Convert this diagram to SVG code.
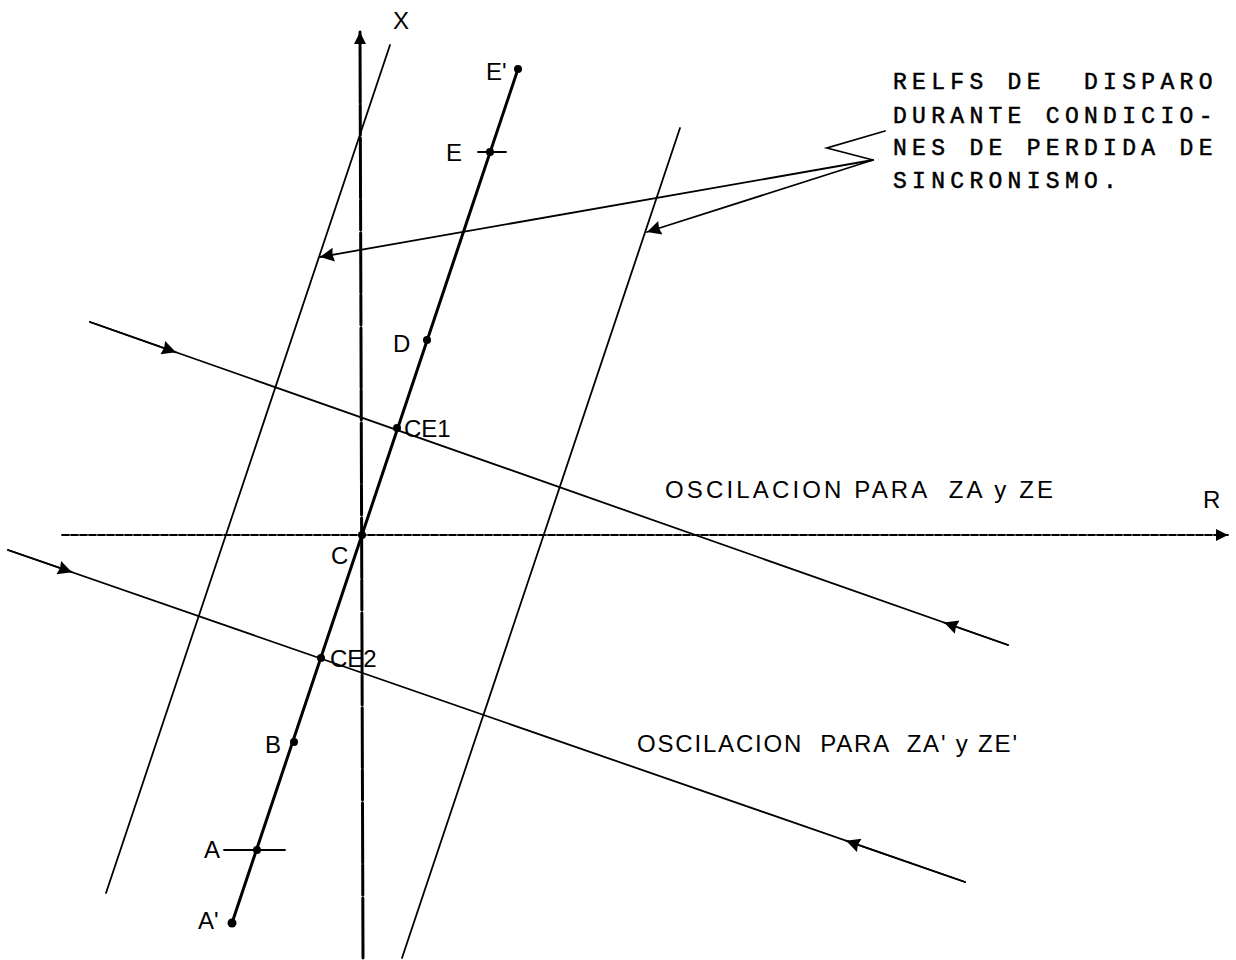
<svg xmlns="http://www.w3.org/2000/svg" width="1236" height="960" viewBox="0 0 1236 960">
<style>
.thin{stroke:#000;stroke-width:1.8;fill:none;stroke-linecap:round}
.thick{stroke:#000;stroke-width:3;fill:none;stroke-linecap:round}
.lbl{font-family:"Liberation Sans","DejaVu Sans",sans-serif;font-size:24px;fill:#000;white-space:pre}
.osc{font-family:"Liberation Sans","DejaVu Sans",sans-serif;font-size:24px;fill:#000;white-space:pre}
.dm{font-family:"Liberation Mono","DejaVu Sans Mono",monospace;font-size:23px;fill:#000;stroke:#000;stroke-width:0.5;letter-spacing:5.3px;white-space:pre}
.dot{fill:#000}
</style>
<defs>
<marker id="ah" viewBox="0 0 10 10" refX="10" refY="5" markerWidth="20" markerHeight="14" markerUnits="userSpaceOnUse" orient="auto">
<path d="M0,0 L10,5 L0,10 L1,5 Z" fill="#000"/>
</marker>
<marker id="axh" viewBox="0 0 10 10" refX="10" refY="5" markerWidth="16" markerHeight="12" markerUnits="userSpaceOnUse" orient="auto">
<path d="M0,0 L10,5 L0,10 Z" fill="#000"/>
</marker>
</defs>
<rect width="1236" height="960" fill="#fff"/>
<g id="axes">
<path d="M363,958 L360,32" class="thick" stroke-width="2.5" stroke-dasharray="60 3 30 2" marker-end="url(#axh)"/>
<path d="M62,535 L1228,535" class="thin" stroke-width="1.6" stroke-dasharray="7 2" marker-end="url(#axh)"/>
<text class="lbl" x="393" y="29">X</text>
<text class="lbl" x="1203" y="508">R</text>
</g>
<g id="connectors">
<path d="M390,45 L106,893" class="thin"/>
<path d="M680,128 L402,958" class="thin"/>
<path d="M90,322 L1008,645" class="thin"/>
<path d="M90,322 L176,352.3" class="thin" marker-end="url(#ah)"/>
<path d="M1008,645 L944,622.5" class="thin" marker-end="url(#ah)"/>
<path d="M8,550 L965,882" class="thin"/>
<path d="M8,550 L72,572.2" class="thin" marker-end="url(#ah)"/>
<path d="M965,882 L846,840.7" class="thin" marker-end="url(#ah)"/>
<polyline points="885,131 827,148 873,160" class="thin"/>
<path d="M873,160 L320,257" class="thin" marker-end="url(#ah)"/>
<path d="M873,160 L647,232" class="thin" marker-end="url(#ah)"/>
</g>
<g id="main-line">
<path d="M518,69 L232,923" class="thick"/>
<path d="M478,152 L506,152" class="thin"/>
<path d="M224,850 L285,850" class="thin"/>
</g>
<g id="node-Eprime"><circle class="dot" cx="518" cy="69" r="4"/><text class="lbl" x="486" y="80">E'</text></g>
<g id="node-E"><circle class="dot" cx="490" cy="152" r="4"/><text class="lbl" x="446" y="161">E</text></g>
<g id="node-D"><circle class="dot" cx="427" cy="340" r="4"/><text class="lbl" x="393" y="352">D</text></g>
<g id="node-CE1"><circle class="dot" cx="397" cy="428" r="4"/><text class="lbl" x="404" y="437">CE1</text></g>
<g id="node-C"><circle class="dot" cx="362" cy="535" r="4"/><text class="lbl" x="331" y="564">C</text></g>
<g id="node-CE2"><circle class="dot" cx="321" cy="658" r="4"/><text class="lbl" x="330" y="667">CE2</text></g>
<g id="node-B"><circle class="dot" cx="294" cy="742" r="4"/><text class="lbl" x="265" y="753">B</text></g>
<g id="node-A"><circle class="dot" cx="257" cy="850" r="4"/><text class="lbl" x="204" y="858">A</text></g>
<g id="node-Aprime"><circle class="dot" cx="232" cy="923" r="4.5"/><text class="lbl" x="198" y="929">A'</text></g>
<g id="label-osc1"><text class="osc" x="665" y="498" textLength="388" lengthAdjust="spacing">OSCILACION PARA  ZA y ZE</text></g>
<g id="label-osc2"><text class="osc" x="637" y="752" textLength="380" lengthAdjust="spacing">OSCILACION  PARA  ZA' y ZE'</text></g>
<g id="note">
<text class="dm" x="893" y="89">RELFS DE  DISPARO</text>
<text class="dm" x="893" y="123">DURANTE CONDICIO-</text>
<text class="dm" x="893" y="155">NES DE PERDIDA DE</text>
<text class="dm" x="893" y="188">SINCRONISMO.</text>
</g>
</svg>
